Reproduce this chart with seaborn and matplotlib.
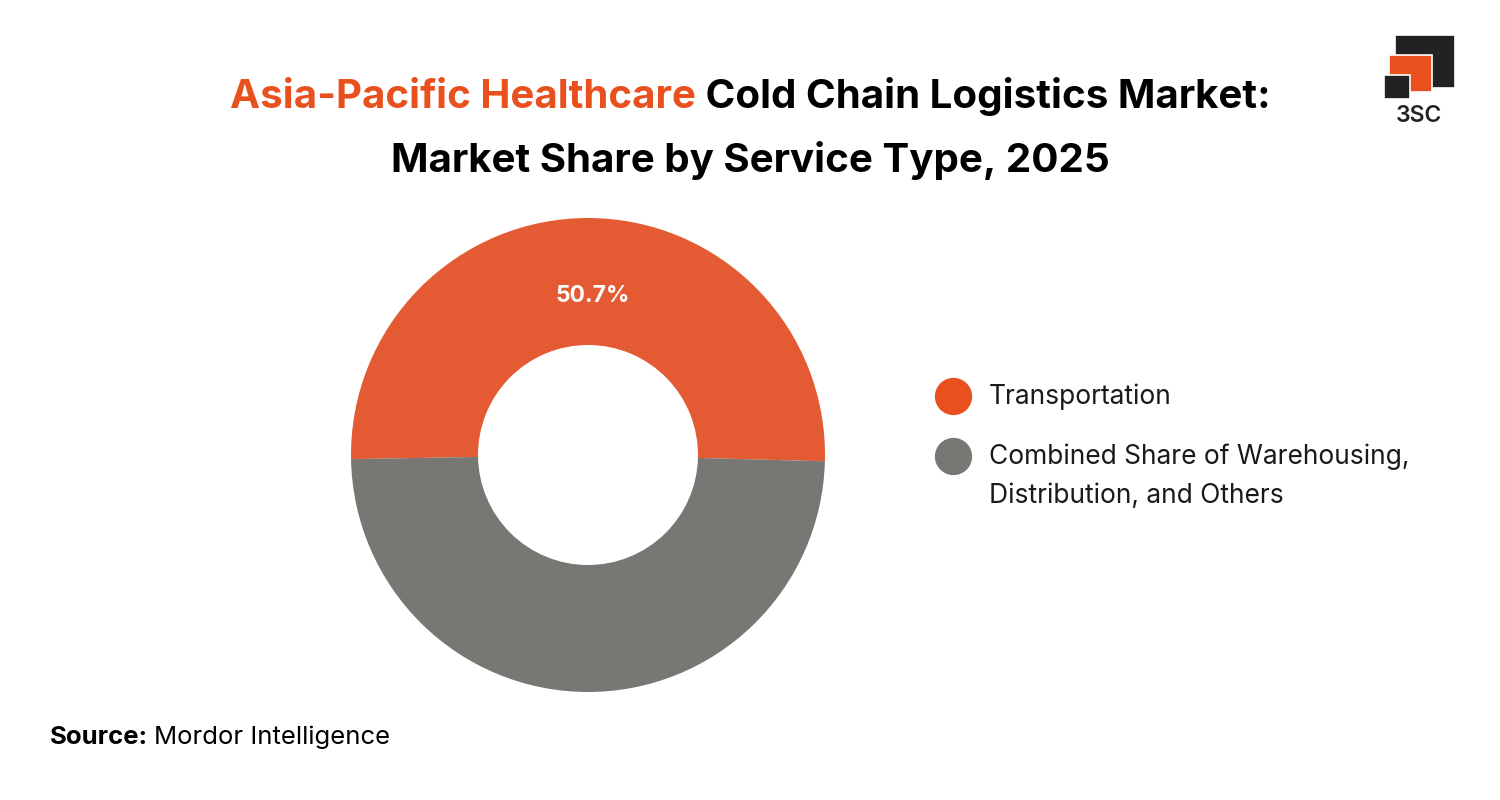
import matplotlib.pyplot as plt
import seaborn as sns
from matplotlib.patches import Rectangle

# Data
segments = ['Transportation', 'Combined Share of Warehousing,\nDistribution, and Others']
shares = [50.7, 49.3]
colors = ['#E35A33', '#787773']
legend_colors = ['#E8501E', '#787773']

sns.set_theme(style='white')
plt.rcParams['font.family'] = ['Inter', 'DejaVu Sans']

W, H = 1500, 800
fig = plt.figure(figsize=(15, 8), dpi=100)
fig.patch.set_facecolor('white')

# overlay axes in pixel coordinates for legend / annotations
ov = fig.add_axes([0, 0, 1, 1])
ov.set_xlim(0, W)
ov.set_ylim(H, 0)
ov.axis('off')

# Donut (center ~588,455, radius ~237)
cx, cy, r = 588, 455, 237
ax = fig.add_axes([(cx - r) / W, (H - cy - r) / H, 2 * r / W, 2 * r / H])
wedges, _ = ax.pie(shares, colors=colors, startangle=181, counterclock=False,
                   radius=1, wedgeprops=dict(width=1 - 110 / 237, linewidth=0))
ax.set_xlim(-1, 1)
ax.set_ylim(-1, 1)
ax.set_aspect('equal')
ax.axis('off')
ax.text(0.02, 0.67, f'{shares[0]}%', color='white', fontsize=16.5, fontweight='bold',
        ha='center', va='center')

# Legend (circle marker aligned with first text line)
leg_y = [396, 456]
for label, c, y in zip(segments, legend_colors, leg_y):
    ov.scatter([953], [y], s=720, color=c, linewidths=0)
    ov.text(989, y - 12, label, fontsize=19, color='#1a1a1a', va='top', ha='left',
            linespacing=1.6)

# Title (two colours on first line)
fig.canvas.draw()
renderer = fig.canvas.get_renderer()
t_orange = fig.text(0, 1 - 97 / H, 'Asia-Pacific Healthcare', color='#E8501E',
                    fontsize=29, fontweight='bold', va='center')
t_black = fig.text(0, 1 - 97 / H, ' Cold Chain Logistics Market:', color='black',
                   fontsize=29, fontweight='bold', va='center')
w1 = t_orange.get_window_extent(renderer).width
w2 = t_black.get_window_extent(renderer).width
x0 = 750 - (w1 + w2) / 2
t_orange.set_x(x0 / W)
t_black.set_x((x0 + w1) / W)
fig.text(750 / W, 1 - 160 / H, 'Market Share by Service Type, 2025', color='black',
         fontsize=29, fontweight='bold', ha='center', va='center')

# Source
s1 = fig.text(50 / W, 1 - 737 / H, 'Source:', fontsize=18.5, fontweight='bold',
              color='black', va='center')
ws = s1.get_window_extent(renderer).width
fig.text((50 + ws + 6) / W, 1 - 737 / H, 'Mordor Intelligence', fontsize=18.5,
         color='black', va='center')

# Logo
def box(x, y, w, h, c):
    fig.patches.append(Rectangle((x / W, 1 - (y + h) / H), w / W, h / H,
                                 transform=fig.transFigure, facecolor=c,
                                 edgecolor='white', linewidth=1.2))

box(1395, 35, 60, 53, '#222222')
box(1389, 55, 43, 37, '#E8501E')
box(1384, 75, 26, 24, '#222222')
fig.text(1419 / W, 1 - 116 / H, '3SC', fontsize=16.5, fontweight='semibold',
         color='#222222', ha='center', va='center')

fig.savefig('out.png', dpi=100, facecolor='white')
